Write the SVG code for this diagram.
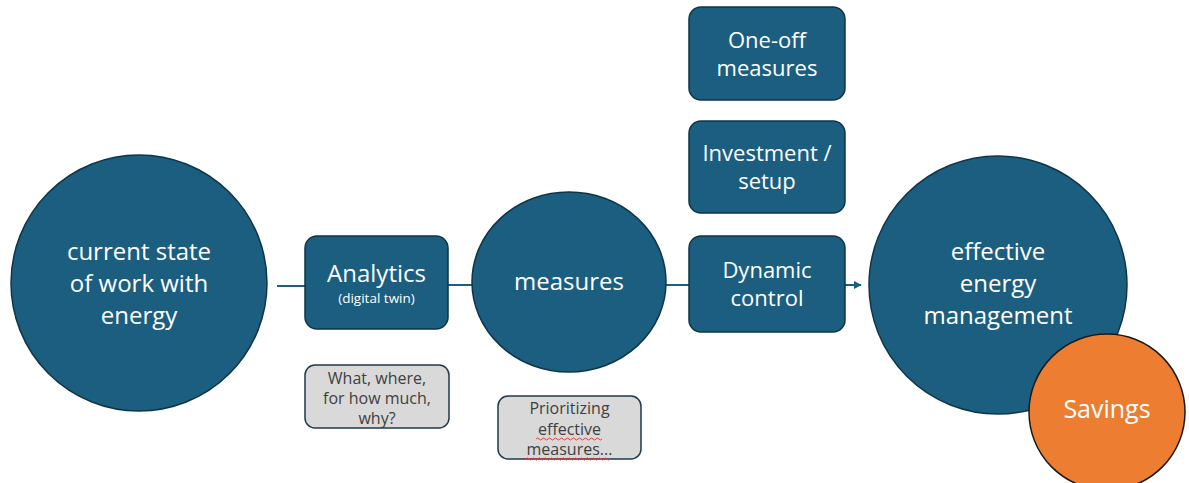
<svg xmlns="http://www.w3.org/2000/svg" width="1189" height="483" viewBox="0 0 1189 483">
<defs>
<style>
.blue{fill:#1B5E80;stroke:#0F3548;stroke-width:1.5}
.gray{fill:#D9D9D9;stroke:#1F3A4A;stroke-width:1.5}
.orange{fill:#ED7D31;stroke:#1A1A1A;stroke-width:1.5}
.wt{fill:#FFFFFF;font-family:"Open Sans","Noto Sans",sans-serif;text-anchor:middle}
.gt{fill:#404040;font-family:"Open Sans","Noto Sans",sans-serif;text-anchor:middle;font-size:16px}
.big{font-size:24px}
.mid{font-size:22px}
.conn{stroke:#1B5E80;stroke-width:2;fill:none}
.squig{stroke:#E04040;stroke-width:1;fill:none}
</style>
<marker id="arr" viewBox="0 0 10 10" refX="9" refY="5" markerWidth="4" markerHeight="4" orient="auto">
<path d="M0,0 L10,5 L0,10 z" fill="#1B5E80"/>
</marker>
</defs>
<rect width="1189" height="483" fill="#FFFFFF"/>
<g id="connectors">
<line class="conn" x1="277" y1="286" x2="305" y2="286"/>
<line class="conn" x1="448" y1="285" x2="472" y2="285"/>
<line class="conn" x1="666" y1="285" x2="689" y2="285"/>
<line class="conn" x1="845" y1="285" x2="861" y2="285" marker-end="url(#arr)"/>
</g>
<g id="current-state">
<circle class="blue" cx="139" cy="283" r="128"/>
<text class="wt big" x="139" y="260">current state</text>
<text class="wt big" x="139" y="292">of work with</text>
<text class="wt big" x="139" y="324">energy</text>
</g>
<g id="analytics">
<rect class="blue" x="305" y="236" width="143" height="93" rx="12"/>
<text class="wt big" x="376.5" y="282">Analytics</text>
<text class="wt" x="376.5" y="303" font-size="13.5">(digital twin)</text>
</g>
<g id="what-where">
<rect class="gray" x="305" y="365" width="144" height="63" rx="10"/>
<text class="gt" x="377" y="384">What, where,</text>
<text class="gt" x="377" y="404">for how much,</text>
<text class="gt" x="377" y="424">why?</text>
</g>
<g id="measures">
<ellipse class="blue" cx="569" cy="282" rx="97" ry="90"/>
<text class="wt big" x="569" y="290">measures</text>
</g>
<g id="prioritizing">
<rect class="gray" x="498" y="396" width="143" height="63" rx="10"/>
<text class="gt" x="569.5" y="414">Prioritizing</text>
<text class="gt" x="569.5" y="435">effective</text>
<text class="gt" x="569.5" y="455">measures...</text>
<path class="squig" d="M536,439 q1.5,-2 3,0 t3,0 t3,0 t3,0 t3,0 t3,0 t3,0 t3,0 t3,0 t3,0 t3,0 t3,0 t3,0 t3,0 t3,0 t3,0 t3,0 t3,0 t3,0 t3,0 t3,0 t3,0"/>
<path class="squig" d="M526,459 q1.5,-2 3,0 t3,0 t3,0 t3,0 t3,0 t3,0 t3,0 t3,0 t3,0 t3,0 t3,0 t3,0 t3,0 t3,0 t3,0 t3,0 t3,0 t3,0 t3,0 t3,0 t3,0 t3,0 t3,0 t3,0 t3,0 t3,0 t3,0 t3,0"/>
</g>
<g id="one-off">
<rect class="blue" x="689" y="7" width="156" height="93" rx="12"/>
<text class="wt mid" x="767" y="48">One-off</text>
<text class="wt mid" x="767" y="76">measures</text>
</g>
<g id="investment">
<rect class="blue" x="689" y="121" width="156" height="92" rx="12"/>
<text class="wt mid" x="767" y="161">Investment /</text>
<text class="wt mid" x="767" y="189">setup</text>
</g>
<g id="dynamic-control">
<rect class="blue" x="689" y="236" width="156" height="96" rx="12"/>
<text class="wt mid" x="767" y="278">Dynamic</text>
<text class="wt mid" x="767" y="306">control</text>
</g>
<g id="effective-management">
<circle class="blue" cx="998" cy="285" r="129"/>
<text class="wt big" x="998" y="260">effective</text>
<text class="wt big" x="998" y="292">energy</text>
<text class="wt big" x="998" y="324">management</text>
</g>
<g id="savings">
<circle class="orange" cx="1107" cy="412" r="78"/>
<text class="wt" x="1107" y="418" font-size="25">Savings</text>
</g>
</svg>
